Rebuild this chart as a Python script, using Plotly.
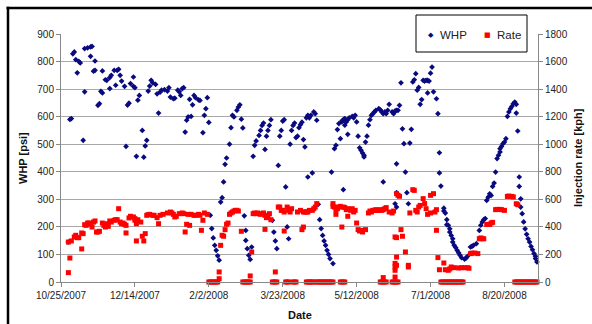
import pandas as pd
import plotly.graph_objects as go

BASE = pd.Timestamp("2007-10-25")

# ---- WHP series (day offset from 10/25/2007, psi) ----
whp_day = [5, 6, 7, 8, 9, 10, 11, 12, 13, 15, 16, 16, 18, 20, 20, 21, 22, 23, 23, 25, 26, 27, 28, 28, 30, 31, 33, 33,
           34, 36, 37, 38, 39, 40, 41, 43, 44, 45, 46, 47, 49, 49, 50, 51, 52, 53, 55, 56, 57, 58, 59, 60, 61, 62, 64,
           65, 66, 67, 68, 70, 72, 73, 74, 76, 77, 79, 80, 81, 82, 83, 84, 85, 86, 87, 88, 89, 90, 91, 93, 94, 96, 97,
           98, 99, 100, 101, 102, 103, 104, 105, 106, 107, 108, 109, 110, 111, 112, 114, 115, 116, 117, 119, 120, 121,
           122, 123, 124, 125, 125, 126, 127, 128, 129, 130, 131, 132, 134, 135, 136, 137, 138, 139, 140, 141, 142,
           143, 144, 145, 146, 147, 148, 149, 150, 151, 152, 153, 154, 155, 156, 157, 158, 159, 160, 161, 162, 163,
           164, 165, 166, 167, 167, 168, 169, 170, 171, 172, 173, 174, 175, 176, 177, 178, 179, 180, 181, 182, 183,
           184, 185, 186, 187, 188, 189, 190, 190, 191, 191, 191, 192, 192, 193, 194, 194, 195, 197, 198, 199, 200,
           201, 202, 203, 204, 205, 205, 206, 207, 208, 209, 210, 211, 212, 213, 215, 216, 217, 218, 218, 219, 220,
           221, 222, 224, 225, 226, 226, 227, 227, 227, 227, 228, 229, 230, 231, 232, 233, 234, 235, 236, 237, 238,
           239, 240, 241, 242, 243, 244, 245, 246, 247, 248, 248, 249, 250, 251, 252, 254, 255, 256, 256, 257, 259,
           259, 260, 261, 261, 262, 263, 263, 264, 265, 265, 266, 267, 268, 269, 270, 271, 273, 274, 275, 277, 278,
           279, 281, 283, 284, 285, 286, 287, 288, 289, 290, 291, 292, 293, 294, 295, 296, 297, 297, 298, 299, 300,
           301, 302, 303, 304, 305, 306, 307, 308, 308, 309, 310, 310, 311, 311, 312, 313, 314, 315, 316, 317, 318,
           319, 320, 321, 321, 322]
whp_psi = [145, 590, 593, 828, 835, 807, 759, 801, 795, 514, 690, 847, 850, 853, 819, 855, 765, 802, 768, 641, 647, 692,
           766, 686, 734, 732, 742, 702, 750, 768, 714, 768, 772, 750, 729, 710, 492, 642, 649, 720, 710, 744, 705, 456,
           660, 677, 550, 453, 494, 514, 693, 711, 732, 723, 717, 683, 613, 689, 696, 698, 693, 705, 671, 665, 667, 696,
           690, 677, 702, 705, 544, 587, 599, 663, 601, 643, 677, 669, 661, 659, 542, 605, 629, 669, 579, 242, 194, 160,
           133, 115, 95, 79, 290, 306, 363, 427, 450, 500, 560, 605, 599, 623, 635, 643, 591, 559, 240, 187, 151, 121,
           97, 82, 127, 456, 496, 512, 532, 550, 568, 577, 481, 529, 550, 568, 589, 224, 181, 149, 121, 423, 529, 550,
           584, 589, 345, 200, 157, 500, 550, 568, 577, 524, 529, 560, 571, 580, 517, 490, 596, 605, 381, 596, 605, 396,
           617, 611, 587, 282, 226, 194, 169, 149, 133, 115, 100, 85, 399, 67, 484, 496, 553, 575, 520, 584, 581, 589,
           587, 335, 593, 569, 581, 589, 536, 596, 601, 596, 605, 581, 529, 487, 478, 468, 460, 454, 508, 529, 569, 589,
           605, 611, 617, 623, 629, 625, 617, 611, 363, 617, 611, 623, 645, 617, 611, 621, 284, 623, 429, 324, 272, 623,
           641, 723, 556, 502, 399, 324, 284, 504, 554, 726, 734, 756, 696, 706, 645, 662, 732, 729, 732, 732, 686, 729,
           758, 780, 690, 665, 611, 469, 396, 348, 268, 258, 250, 226, 208, 206, 193, 181, 169, 157, 145, 133, 125, 115,
           106, 97, 88, 83, 87, 93, 127, 129, 133, 139, 187, 206, 218, 226, 230, 296, 308, 320, 314, 347, 359, 399, 448,
           460, 472, 484, 492, 502, 508, 520, 601, 617, 629, 637, 647, 653, 645, 613, 548, 381, 347, 302, 272, 248, 218,
           193, 173, 157, 145, 129, 117, 103, 93, 85, 73]

# ---- Injection rate series (day offset, kph) ----
rate_day = [5, 5, 6, 7, 9, 10, 11, 12, 14, 14, 15, 16, 17, 18, 19, 20, 21, 22, 23, 24, 25, 26, 28, 29, 30, 31, 32, 33,
            34, 36, 37, 38, 39, 40, 41, 42, 43, 44, 44, 46, 47, 49, 50, 50, 51, 51, 52, 54, 55, 56, 57, 58, 59, 60, 62,
            63, 65, 66, 67, 69, 72, 74, 75, 76, 77, 78, 80, 82, 83, 84, 85, 86, 87, 88, 90, 91, 93, 94, 95, 96, 97, 99,
            100, 101, 102, 103, 104, 105, 106, 107, 107, 108, 109, 110, 111, 112, 113, 114, 115, 116, 117, 118, 119,
            120, 122, 123, 124, 125, 126, 127, 128, 128, 129, 130, 131, 132, 133, 134, 135, 137, 138, 138, 139, 140,
            141, 142, 143, 144, 145, 145, 146, 147, 148, 149, 150, 151, 151, 152, 153, 153, 154, 154, 155, 156, 157,
            158, 159, 160, 162, 163, 164, 164, 165, 166, 166, 167, 167, 168, 168, 169, 170, 170, 171, 171, 172, 173,
            173, 174, 175, 176, 177, 178, 179, 180, 181, 182, 183, 184, 184, 184, 185, 186, 186, 187, 188, 189, 189,
            190, 190, 191, 191, 192, 192, 193, 194, 194, 196, 197, 198, 199, 200, 201, 202, 203, 204, 206, 208, 209,
            210, 211, 212, 213, 214, 215, 216, 216, 217, 217, 218, 218, 218, 219, 219, 220, 220, 222, 224, 224, 225,
            225, 226, 226, 226, 226, 226, 226, 227, 227, 227, 227, 227, 228, 228, 229, 230, 231, 233, 235, 235, 236,
            238, 239, 240, 241, 242, 243, 245, 246, 247, 248, 250, 250, 252, 253, 254, 254, 255, 256, 257, 258, 259,
            259, 260, 260, 261, 262, 262, 263, 263, 264, 264, 265, 266, 266, 267, 268, 269, 269, 270, 271, 271, 272,
            273, 275, 276, 277, 278, 280, 282, 283, 284, 285, 286, 288, 290, 291, 292, 294, 295, 297, 298, 300, 302,
            303, 305, 306, 307, 308, 308, 309, 309, 310, 311, 312, 313, 314, 315, 316, 317, 318, 319, 320, 321, 322]
rate_kph = [68, 290, 174, 298, 327, 339, 322, 322, 356, 240, 351, 416, 411, 428, 428, 419, 399, 435, 443, 363, 363, 368,
            428, 411, 399, 423, 404, 443, 435, 448, 452, 452, 532, 435, 423, 428, 419, 411, 356, 465, 477, 472, 460,
            448, 423, 298, 452, 435, 332, 298, 351, 484, 489, 491, 484, 484, 467, 423, 484, 491, 501, 508, 501, 491,
            472, 477, 496, 501, 496, 363, 419, 491, 411, 491, 484, 484, 491, 484, 375, 448, 501, 491,
            0, 0, 0, 0, 0, 0, 0, 73, 24, 266, 339, 332, 380, 419, 428, 491, 501, 508, 515, 520, 520,
            515, 368, 0, 0, 0, 0, 0, 0, 44, 218, 496, 501, 496, 501, 496, 491, 501, 484, 382, 467, 477,
            496, 452, 0, 0, 0, 73, 0, 544, 544, 520, 520, 508, 370, 0, 0, 544, 0, 520, 508, 532, 0,
            0, 0, 508, 520, 380, 399, 508, 508, 508, 0, 508, 0, 520, 0, 0, 520, 0, 532, 0, 544, 569,
            0, 0, 0, 0, 0, 0, 0, 0, 0, 0, 0, 0, 569, 549, 544, 525, 491, 532, 544, 549, 0,
            399, 0, 544, 0, 540, 0, 525, 532, 477, 520, 532, 508, 520, 428, 380, 370, 375, 363, 380, 501, 515,
            508, 520, 520, 525, 520, 520, 525, 0, 520, 0, 525, 0, 32, 532, 0, 540, 0, 508, 501, 0, 515,
            0, 0, 36, 85, 110, 135, 327, 0, 322, 181, 121, 641, 0, 629, 622, 380, 332, 218, 121, 109, 501,
            670, 665, 520, 508, 544, 556, 605, 569, 532, 491, 501, 629, 641, 508, 525, 375, 177, 89, 0, 0, 0,
            138, 0, 89, 0, 0, 85, 0, 95, 0, 109, 0, 0, 104, 0, 0, 0, 102, 0, 0, 104, 0,
            104, 104, 100, 206, 210, 210, 206, 314, 320, 314, 314, 418, 418, 428, 433, 525, 527, 527, 525, 520, 621,
            624, 621, 617, 0, 0, 568, 0, 561, 0, 0, 0, 0, 0, 0, 0, 0, 0, 0, 0, 0, 0]

x_tick_days = [0, 50, 100, 150, 200, 250, 300]
x_tick_text = ["10/25/2007", "12/14/2007", "2/2/2008", "3/23/2008", "5/12/2008", "7/1/2008", "8/20/2008"]
series_names = ["WHP", "Rate"]
series_colors = ["#0A0A80", "#FF0000"]

whp_dates = [BASE + pd.Timedelta(days=d) for d in whp_day]
rate_dates = [BASE + pd.Timedelta(days=d) for d in rate_day]
tick_dates = [BASE + pd.Timedelta(days=d) for d in x_tick_days]

FONT = "Arial, 'Liberation Sans', sans-serif"

fig = go.Figure()
fig.add_trace(go.Scatter(x=whp_dates, y=whp_psi, mode="markers", name=series_names[0],
                         marker=dict(symbol="diamond", size=4.4, color=series_colors[0]),
                         cliponaxis=False, showlegend=False))
fig.add_trace(go.Scatter(x=rate_dates, y=rate_kph, mode="markers", name=series_names[1], yaxis="y2",
                         marker=dict(symbol="square", size=5, color=series_colors[1]),
                         cliponaxis=False, showlegend=False))

L, T, W, H = 61, 34, 477, 248


def px(xp):
    return (xp - L) / W


def py(yp):
    return (T + H - yp) / H


annos = [
    dict(text="<b>WHP [psi]</b>", x=px(23), y=0.5, textangle=-90),
    dict(text="<b>Injection rate [kph]</b>", x=px(578), y=0.5, textangle=-90),
    dict(text="<b>Date</b>", x=0.5, y=py(315)),
    # legend
    dict(text="◆", x=px(430.7), y=py(34.5), font=dict(size=7, color=series_colors[0], family="DejaVu Sans")),
    dict(text=series_names[0], x=px(437.5), y=py(34.5), xanchor="left", font=dict(size=11.5, color="#222")),
    dict(text="■", x=px(487.5), y=py(34.5), font=dict(size=7, color=series_colors[1], family="DejaVu Sans")),
    dict(text=series_names[1], x=px(494.5), y=py(34.5), xanchor="left", font=dict(size=11.5, color="#222")),
]
for a in annos:
    a.setdefault("xanchor", "center")
    a.setdefault("yanchor", "middle")
    a.setdefault("font", dict(size=11, color="#111"))
    a.update(xref="paper", yref="paper", showarrow=False)

fig.update_layout(
    width=592, height=324,
    margin=dict(l=L, r=592 - L - W, t=T, b=324 - T - H, autoexpand=False),
    paper_bgcolor="white", plot_bgcolor="white",
    font=dict(family=FONT, size=10, color="#222"),
    showlegend=False,
    xaxis=dict(type="date", range=[BASE, BASE + pd.Timedelta(days=322.7)],
               tickvals=tick_dates, ticktext=x_tick_text, ticks="outside", ticklen=4,
               tickcolor="#888", showline=True, linecolor="#888", linewidth=1,
               showgrid=False, zeroline=False, automargin=False),
    yaxis=dict(range=[0, 900], dtick=100, ticks="outside", ticklen=4, tickcolor="#888",
               showline=True, linecolor="#888", linewidth=1, showgrid=True, gridcolor="#A8A8A8",
               gridwidth=1, zeroline=False, automargin=False),
    yaxis2=dict(range=[0, 1800], dtick=200, overlaying="y", side="right", ticks="outside", ticklen=4,
                tickcolor="#888", showline=True, linecolor="#888", linewidth=1, showgrid=False,
                zeroline=False, automargin=False),
    annotations=annos,
    shapes=[
        # outer frame (top and left edges visible)
        dict(type="line", xref="paper", yref="paper", x0=px(6.5), x1=px(600), y0=py(8), y1=py(8),
             line=dict(color="#000", width=2.5)),
        dict(type="line", xref="paper", yref="paper", x0=px(8), x1=px(8), y0=py(6.8), y1=py(330),
             line=dict(color="#000", width=2.5)),
        # legend box
        dict(type="rect", xref="paper", yref="paper", x0=px(416), x1=px(527), y0=py(15), y1=py(52),
             line=dict(color="#000", width=1), fillcolor="white", layer="above"),
    ],
)

fig.write_html("out.html")
